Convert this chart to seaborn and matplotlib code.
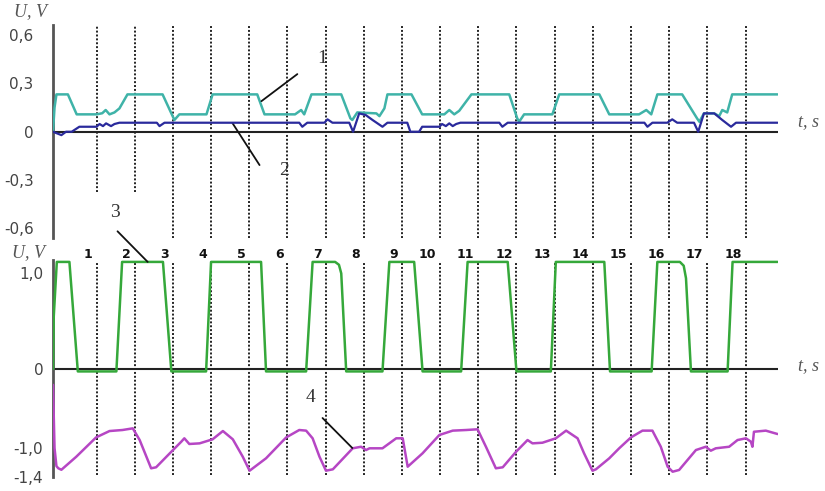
import numpy as np
import pandas as pd
import matplotlib
matplotlib.use("Agg")
import matplotlib.pyplot as plt
import seaborn as sns

# upper panel: curves 1 and 2 (U, V against t, s)
t1 = [-0.14, -0.10, -0.05, 0.25, 0.48, 1.0, 1.15, 1.24, 1.34, 1.47, 1.6, 1.81, 2.73, 3.04, 3.17,
      3.88, 4.04, 5.21, 5.40, 6.20, 6.36, 6.44, 6.63, 7.41, 7.65, 7.70, 7.83, 8.33, 8.41, 8.54,
      8.62, 9.25, 9.53, 10.11, 10.24, 10.37, 10.50, 10.82, 11.81, 12.02, 12.07, 12.20, 12.94,
      13.12, 14.17, 14.43, 15.21, 15.40, 15.53, 15.69, 16.34, 16.73, 16.79, 16.91, 17.18, 17.31,
      17.39, 17.52, 17.65, 18.84]
u1 = [0.0, 0.15, 0.232, 0.232, 0.108, 0.108, 0.115, 0.135, 0.108, 0.12, 0.145, 0.232, 0.232, 0.073,
      0.108, 0.108, 0.232, 0.232, 0.108, 0.108, 0.135, 0.108, 0.232, 0.232, 0.083, 0.073, 0.12,
      0.114, 0.097, 0.145, 0.232, 0.232, 0.108, 0.108, 0.135, 0.108, 0.13, 0.232, 0.232, 0.083,
      0.062, 0.108, 0.108, 0.232, 0.232, 0.108, 0.108, 0.135, 0.108, 0.232, 0.232, 0.083, 0.062,
      0.114, 0.114, 0.097, 0.135, 0.12, 0.232, 0.232]

t2 = [-0.14, 0.08, 0.2, 0.35, 0.55, 1.0, 1.08, 1.17, 1.25, 1.38, 1.47, 1.6, 2.58, 2.65, 2.78,
      6.31, 6.39, 6.52, 6.97, 7.05, 7.18, 7.62, 7.72, 7.88, 8.05, 8.23, 8.49, 8.62, 9.14, 9.22,
      9.45, 9.53, 9.98, 10.05, 10.15, 10.24, 10.33, 10.42, 10.53, 11.55, 11.63, 11.77, 15.35,
      15.43, 15.56, 15.95, 16.08, 16.21, 16.65, 16.76, 16.91, 17.18, 17.39, 17.62, 17.75, 18.84]
u2 = [0.0, -0.021, 0.0, 0.0, 0.031, 0.031, 0.048, 0.035, 0.052, 0.035, 0.048, 0.056, 0.056, 0.035,
      0.056, 0.056, 0.031, 0.056, 0.056, 0.077, 0.056, 0.056, 0.0, 0.114, 0.104, 0.073, 0.031,
      0.056, 0.056, 0.0, 0.0, 0.031, 0.031, 0.048, 0.035, 0.052, 0.035, 0.048, 0.056, 0.056,
      0.031, 0.056, 0.056, 0.031, 0.056, 0.056, 0.077, 0.056, 0.056, 0.0, 0.114, 0.114, 0.073,
      0.031, 0.056, 0.056]

# lower panel: curves 3 and 4
t3 = [-0.14, -0.12, -0.04, 0.29, 0.51, 1.52, 1.67, 2.74, 2.96, 3.87, 4.0, 5.31, 5.44, 6.49, 6.66,
      7.25, 7.35, 7.41, 7.54, 8.49, 8.67, 9.32, 9.54, 10.55, 10.72, 11.77, 12.0, 12.90, 13.03,
      14.30, 14.45, 15.54, 15.69, 16.28, 16.38, 16.44, 16.57, 17.53, 17.66, 18.84]
u3 = [0.0, 0.55, 1.12, 1.12, -0.03, -0.03, 1.12, 1.12, -0.03, -0.03, 1.12, 1.12, -0.03, -0.03,
      1.12, 1.12, 1.09, 1.0, -0.03, -0.03, 1.12, 1.12, -0.03, -0.03, 1.12, 1.12, -0.03, -0.03,
      1.12, 1.12, -0.03, -0.03, 1.12, 1.12, 1.08, 0.95, -0.03, -0.03, 1.12, 1.12]

t4 = [-0.14, -0.10, -0.05, 0.0, 0.08, 0.47, 0.99, 1.34, 1.68, 1.95, 2.13, 2.43, 2.56, 2.96, 3.22,
      3.30, 3.43, 3.70, 4.04, 4.31, 4.57, 4.83, 5.01, 5.44, 5.97, 6.31, 6.49, 6.66, 6.84, 7.01,
      7.19, 7.71, 7.93, 8.06, 8.15, 8.49, 8.85, 9.02, 9.15, 9.54, 9.98, 10.33, 10.68, 10.98,
      11.20, 11.46, 11.64, 11.99, 12.29, 12.42, 12.68, 13.03, 13.30, 13.60, 13.77, 13.99, 14.08,
      14.43, 14.69, 15.0, 15.30, 15.56, 15.78, 15.96, 16.09, 16.26, 16.70, 16.96, 17.09, 17.22,
      17.57, 17.79, 18.01, 18.14, 18.18, 18.22, 18.53, 18.84]
u4 = [-0.2, -1.0, -1.25, -1.28, -1.30, -1.12, -0.865, -0.785, -0.772, -0.751, -0.899, -1.28,
      -1.266, -1.051, -0.92, -0.877, -0.949, -0.941, -0.89, -0.785, -0.89, -1.12, -1.313, -1.142,
      -0.865, -0.772, -0.78, -0.877, -1.12, -1.313, -1.294, -1.004, -0.984, -1.028, -1.004,
      -1.004, -0.877, -0.877, -1.258, -1.073, -0.835, -0.78, -0.772, -0.763, -0.984, -1.28,
      -1.266, -1.051, -0.899, -0.941, -0.933, -0.877, -0.78, -0.877, -1.073, -1.313, -1.294,
      -1.142, -1.004, -0.865, -0.78, -0.78, -0.984, -1.258, -1.327, -1.303, -1.028, -0.984,
      -1.037, -1.004, -0.984, -0.899, -0.877, -0.92, -0.984, -0.794, -0.78, -0.823]

top_ticks = [0.6, 0.3, 0.0, -0.3, -0.6]
top_tick_labels = ["0,6", "0,3", "0", "-0,3", "-0,6"]
bot_ticks = [1.0, 0.0, -1.0, -1.4]
bot_tick_labels = ["1,0", "0", "-1,0", "-1,4"]
seconds = list(range(1, 19))

sns.set_style("white")
plt.rcParams["font.family"] = ["DejaVu Sans"]

W, H = 825, 491
fig = plt.figure(figsize=(W / 100, H / 100), dpi=100)


def box(x0, y0, x1, y1):
    # pixel box -> figure fractions
    return [x0 / W, 1 - y1 / H, (x1 - x0) / W, (y1 - y0) / H]


ax1 = fig.add_axes(box(53, 25, 778, 238))
ax2 = fig.add_axes(box(53, 260, 778, 477))

# the lower panel in the source has an uneven vertical scale
sc_u = [-3.0, -1.4, -1.0, 0.0, 1.0, 3.0]
sc_p = [-593.0, -477.0, -448.0, -369.0, -273.3, -81.9]


def fwd(u):
    return np.interp(u, sc_u, sc_p)


def inv(p):
    return np.interp(p, sc_p, sc_u)


ax2.set_yscale("function", functions=(fwd, inv))

dot = dict(color="#222222", lw=1.4, linestyle=(0, (1, 1)), zorder=1)
top_lo = [-0.375 if k <= 2 else -0.66 for k in seconds]
ax1.vlines(seconds, top_lo, 0.663, **dot)
ax2.vlines(seconds, -1.37, 1.12, **dot)

ax1.axhline(0, color="#222222", lw=1.5, zorder=1.5)
ax2.axhline(0, color="#222222", lw=1.5, zorder=1.5)

sns.lineplot(x=t1, y=u1, ax=ax1, color="#3fb3a8", lw=1.8, estimator=None, sort=False, zorder=3)
sns.lineplot(x=t2, y=u2, ax=ax1, color="#2a2a9c", lw=1.6, estimator=None, sort=False, zorder=4)
sns.lineplot(x=t3, y=u3, ax=ax2, color="#35a83a", lw=1.8, estimator=None, sort=False, zorder=3)
sns.lineplot(x=t4, y=u4, ax=ax2, color="#b646c4", lw=1.8, estimator=None, sort=False, zorder=3)

ax1.set_ylim(-0.66, 0.663)
ax2.set_ylim(-1.4, 1.14)
for ax in (ax1, ax2):
    ax.set_xlim(-0.14, 18.85)
    ax.set_xticks([])
    sns.despine(ax=ax, bottom=True)
    ax.spines["left"].set_color("#555555")
    ax.spines["left"].set_linewidth(2)
    ax.patch.set_alpha(0)

ax1.set_yticks(top_ticks, top_tick_labels)
ax1.tick_params(axis="y", length=0, pad=14, labelsize=11, labelcolor="#444444")
ax2.set_yticks(bot_ticks, bot_tick_labels)
ax2.tick_params(axis="y", length=0, pad=7, labelsize=11, labelcolor="#444444")

for k in seconds:
    ax2.text(k - 0.1, 1.2, str(k), ha="right", va="center", fontsize=9,
             fontweight="bold", color="#111111", clip_on=False)

serif = dict(family="Liberation Serif", color="#333333", fontsize=14, ha="center", va="center")
line = dict(arrowstyle="-", color="#111111", lw=1.3, shrinkA=0, shrinkB=0)

ax1.text(6.92, 0.458, "1", **serif)
ax1.annotate("", xy=(5.32, 0.19), xytext=(6.26, 0.358), arrowprops=line)
ax1.text(5.9, -0.238, "2", **serif)
ax1.annotate("", xy=(4.56, 0.054), xytext=(5.27, -0.207), arrowprops=line)
ax2.text(1.47, 1.64, "3", **serif)
ax2.annotate("", xy=(2.34, 1.12), xytext=(1.55, 1.44), arrowprops=line, annotation_clip=False)
ax2.text(6.61, -0.354, "4", **serif)
ax2.annotate("", xy=(7.70, -1.0), xytext=(6.92, -0.62), arrowprops=line)

lab = dict(family="Liberation Serif", style="italic", color="#555555", fontsize=13,
           ha="center", va="center")
fig.text(31 / W, 1 - 12 / H, "U, V", **lab)
fig.text(28 / W, 1 - 253 / H, "U, V", **lab)
fig.text(809 / W, 1 - 122 / H, "t, s", **lab)
fig.text(809 / W, 1 - 366 / H, "t, s", **lab)

fig.savefig("out.png", dpi=100)
